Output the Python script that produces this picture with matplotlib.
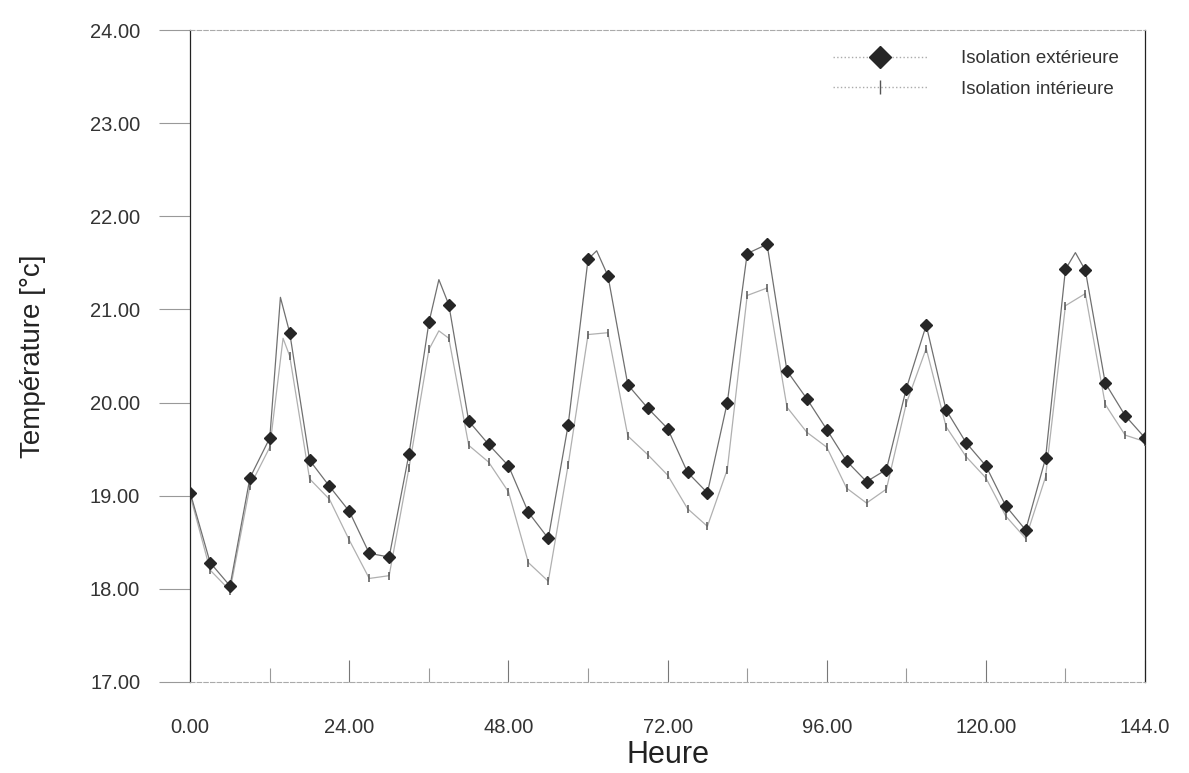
import numpy as np
import matplotlib
matplotlib.use("Agg")
import matplotlib.pyplot as plt
from matplotlib.ticker import MultipleLocator, FuncFormatter, FormatStrFormatter

# heures des points marqués (pas de 3 h)
heures = list(range(0, 145, 3))

# Isolation extérieure (°C), relevé tous les 3 h
t_ext = [19.03, 18.28, 18.03, 19.19, 19.62, 20.75, 19.38, 19.10, 18.83, 18.38,
         18.34, 19.45, 20.86, 21.05, 19.80, 19.55, 19.32, 18.82, 18.54, 19.76,
         21.54, 21.36, 20.19, 19.94, 19.72, 19.25, 19.03, 20.00, 21.60, 21.70,
         20.34, 20.04, 19.71, 19.37, 19.15, 19.28, 20.15, 20.83, 19.92, 19.57,
         19.32, 18.89, 18.63, 19.40, 21.43, 21.42, 20.21, 19.86, 19.62]

# pointes de la courbe extérieure entre deux marqueurs
pic_ext_h = [13.6, 37.5, 61.3, 133.5]
pic_ext_t = [21.13, 21.32, 21.63, 21.61]

# Isolation intérieure (°C), relevé tous les 3 h
t_int = [19.00, 18.20, 17.98, 19.10, 19.52, 20.50, 19.18, 18.96, 18.52, 18.11,
         18.14, 19.30, 20.57, 20.69, 19.54, 19.36, 19.04, 18.28, 18.08, 19.33,
         20.73, 20.75, 19.64, 19.44, 19.22, 18.86, 18.67, 19.28, 21.15, 21.23,
         19.95, 19.68, 19.52, 19.08, 18.92, 19.07, 19.99, 20.58, 19.74, 19.42,
         19.19, 18.78, 18.54, 19.20, 21.04, 21.17, 19.98, 19.65, 19.58]

pic_int_h = [14.0, 37.5]
pic_int_t = [20.69, 20.77]


def courbe(h, t, ph, pt):
    d = dict(zip(h, t))
    d.update(zip(ph, pt))
    hs = sorted(d)
    return hs, [d[k] for k in hs]


def fmt_heure(v, pos):
    s = '%.2f' % v
    return s[:5] if v >= 100 and v == 144 else s


plt.rcParams['font.family'] = ['Liberation Sans', 'DejaVu Sans']

fig = plt.figure(figsize=(11.89, 7.73), dpi=100)
ax = fig.add_axes([0.160, 0.118, 0.803, 0.843])

hx, tx = courbe(heures, t_ext, pic_ext_h, pic_ext_t)
hi, ti = courbe(heures, t_int, pic_int_h, pic_int_t)

ax.plot(hi, ti, color='#b0b0b0', linewidth=0.9, zorder=2)
ax.plot(hx, tx, color='#707070', linewidth=0.9, zorder=3)
ax.plot(heures, t_int, linestyle='none', marker='|', markersize=6,
        markeredgewidth=1.1, color='#555555', zorder=4)
ax.plot(heures, t_ext, linestyle='none', marker='D', markersize=6.5,
        color='#262626', zorder=5)

# légende
ax.plot([], [], color='#aaaaaa', linestyle=':', linewidth=1, marker='D',
        markersize=11, markerfacecolor='#262626', markeredgecolor='#262626',
        label='Isolation extérieure')
ax.plot([], [], color='#aaaaaa', linestyle=':', linewidth=1, marker='|',
        markersize=10, markeredgecolor='#555555', label='Isolation intérieure')
handles, labels = ax.get_legend_handles_labels()
leg = ax.legend(handles, labels, loc='upper right', bbox_to_anchor=(0.99, 0.995),
                frameon=False, fontsize=13.5, handlelength=5, handletextpad=1.8,
                labelspacing=0.7)
for txt in leg.get_texts():
    txt.set_color('#333333')

ax.set_xlim(0, 144)
ax.set_ylim(17, 24)

ax.xaxis.set_major_locator(MultipleLocator(24))
ax.xaxis.set_minor_locator(MultipleLocator(12))
ax.yaxis.set_major_locator(MultipleLocator(1))
ax.xaxis.set_major_formatter(FuncFormatter(fmt_heure))
ax.yaxis.set_major_formatter(FormatStrFormatter('%.2f'))

ax.tick_params(axis='y', direction='out', length=22, width=0.8, color='#999999',
               pad=14, labelsize=14.5, labelcolor='#333333')
ax.tick_params(axis='x', which='major', direction='in', length=16, width=0.8,
               color='#777777', pad=26, labelsize=14.5, labelcolor='#333333')
ax.tick_params(axis='x', which='minor', direction='in', length=10, width=0.8,
               color='#999999')

ax.spines['left'].set_color('#222222')
ax.spines['left'].set_linewidth(0.9)
ax.spines['right'].set_color('#222222')
ax.spines['right'].set_linewidth(0.9)
ax.spines['top'].set_color('#aaaaaa')
ax.spines['top'].set_linestyle((0, (4, 2)))
ax.spines['top'].set_linewidth(0.8)
ax.spines['bottom'].set_color('#aaaaaa')
ax.spines['bottom'].set_linestyle((0, (4, 2)))
ax.spines['bottom'].set_linewidth(0.8)

ax.set_xlabel('Heure', fontsize=22, color='#222222', labelpad=2)
ax.set_ylabel('Température [°c]', fontsize=20, color='#222222', labelpad=32)

fig.savefig('out.png', dpi=100)
plt.close(fig)
